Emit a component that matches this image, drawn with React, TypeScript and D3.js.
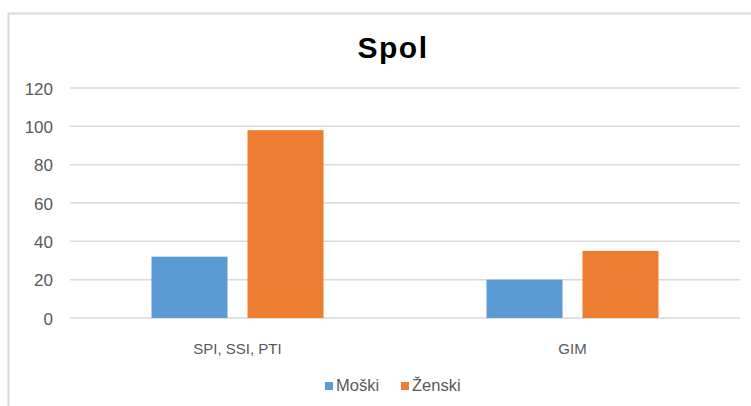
import React from "react";
import * as d3 from "d3";

const categories = ["SPI, SSI, PTI", "GIM"];
const seriesNames = ["Moški", "Ženski"];
const moski = [32, 20];
const zenski = [98, 35];
const yTicks = [0, 20, 40, 60, 80, 100, 120];
const colors = ["#5b9bd5", "#ed7d31"];

export default function App() {
  const W = 751, H = 406;
  const left = 70, right = 740, top = 88, bottom = 318;
  const x = d3.scaleBand<string>().domain(categories).range([left, right]);
  const y = d3.scaleLinear().domain([0, 120]).range([bottom, top]);
  const barW = 76, innerGap = 20;
  const series = [moski, zenski];
  const font = "Liberation Sans, Arial, sans-serif";
  const legendX = [325, 401];
  return (
    <svg width={W} height={H} style={{ position: "absolute", left: 0, top: 0, background: "#fff" }}>
      <rect x={0} y={0} width={W} height={H} fill="#fff" />
      <path d={`M8.5,${H + 5} V13.5 H${W + 5}`} fill="none" stroke="#d9d9d9" strokeWidth={2} />
      <text x={393} y={58} textAnchor="middle" fontFamily={font} fontWeight="bold" fontSize={30} letterSpacing={1.5} fill="#000">Spol</text>
      {yTicks.map((t) => (
        <g key={t}>
          <line x1={left} x2={right} y1={y(t)} y2={y(t)} stroke="#d9d9d9" strokeWidth={1.5} />
          <text x={53} y={y(t) + 6.5} textAnchor="end" fontFamily={font} fontSize={17} fill="#595959">{t}</text>
        </g>
      ))}
      {categories.map((c, i) => {
        const cx = (x(c) as number) + x.bandwidth() / 2;
        const start = cx - (barW * 2 + innerGap) / 2;
        return (
          <g key={c}>
            {series.map((s, j) => (
              <rect key={j} x={start + j * (barW + innerGap)} y={y(s[i])} width={barW} height={y(0) - y(s[i])} fill={colors[j]} />
            ))}
            <text x={cx} y={354} textAnchor="middle" fontFamily={font} fontSize={15} fill="#595959">{c}</text>
          </g>
        );
      })}
      {seriesNames.map((n, j) => {
        const lx = legendX[j];
        return (
          <g key={n}>
            <rect x={lx} y={382} width={8} height={8} fill={colors[j]} />
            <text x={lx + 11} y={391} fontFamily={font} fontSize={16.5} fill="#595959">{n}</text>
          </g>
        );
      })}
    </svg>
  );
}
